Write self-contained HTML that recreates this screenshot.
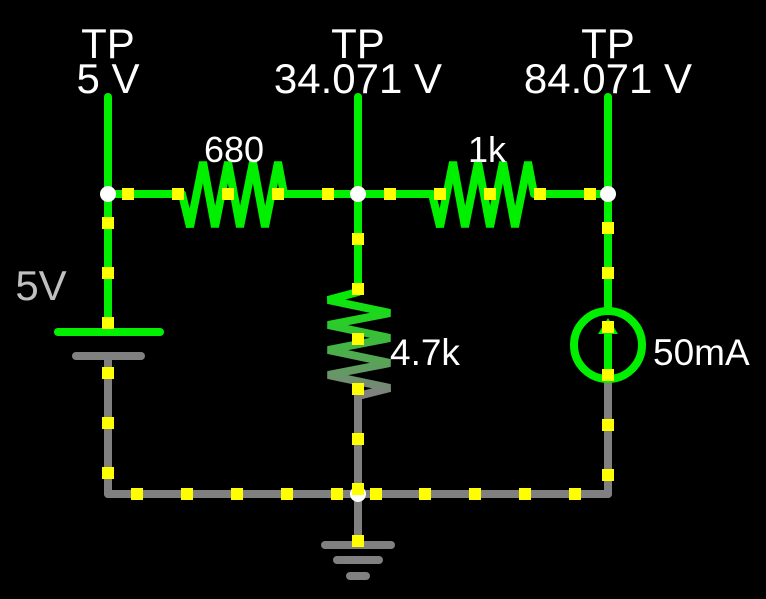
<!DOCTYPE html>
<html><head><style>html,body{margin:0;padding:0;background:#000;}</style></head>
<body>
<svg width="766" height="599" xmlns="http://www.w3.org/2000/svg" style="display:block">
<defs>
<linearGradient id="g1" x1="0" y1="290" x2="0" y2="395" gradientUnits="userSpaceOnUse">
<stop offset="0" stop-color="#00f000"/><stop offset="1" stop-color="#808080"/>
</linearGradient>
</defs>
<rect width="766" height="599" fill="#000"/>
<g stroke-linecap="round" stroke-linejoin="round" fill="none" stroke-width="8">
<line x1="108" y1="97" x2="108" y2="194" stroke="#00f000"/>
<line x1="358" y1="97" x2="358" y2="194" stroke="#00f000"/>
<line x1="608" y1="97" x2="608" y2="194" stroke="#00f000"/>
<line x1="108" y1="194" x2="182" y2="194" stroke="#00f000"/>
<line x1="284" y1="194" x2="432" y2="194" stroke="#00f000"/>
<line x1="534" y1="194" x2="608" y2="194" stroke="#00f000"/>
<polyline points="182,194 190,227 203,162 215,227 228,162 240,227 253,162 265,227 278,162 284,194" stroke="#00f000" stroke-linejoin="miter"/>
<polyline points="432,194 440,227 453,162 465,227 478,162 490,227 503,162 515,227 528,162 534,194" stroke="#00f000" stroke-linejoin="miter"/>
<line x1="108" y1="194" x2="108" y2="332" stroke="#00f000"/>
<line x1="58" y1="332" x2="160" y2="332" stroke="#00f000"/>
<line x1="76" y1="356" x2="141" y2="356" stroke="#808080"/>
<line x1="108" y1="356" x2="108" y2="494" stroke="#808080"/>
<line x1="358" y1="194" x2="358" y2="292" stroke="#00f000"/>
<polyline points="358,292 328,300 390,313 328,325 390,338 328,350 390,363 328,375 390,388 358,396" stroke="url(#g1)" stroke-linejoin="miter"/>
<line x1="358" y1="396" x2="358" y2="545" stroke="#808080"/>
<line x1="325" y1="545" x2="391" y2="545" stroke="#808080"/>
<line x1="337" y1="560" x2="379" y2="560" stroke="#808080"/>
<line x1="350" y1="576" x2="366" y2="576" stroke="#808080"/>
<line x1="108" y1="494" x2="608" y2="494" stroke="#808080"/>
<line x1="608" y1="194" x2="608" y2="308" stroke="#00f000"/>
<line x1="608" y1="382" x2="608" y2="494" stroke="#808080"/>
<circle cx="608" cy="345" r="34" stroke="#00f000"/>
<line x1="608" y1="372" x2="608" y2="330" stroke="#00f000"/>
</g>
<polygon points="608,318 598,334 618,334" fill="#00f000"/>
<g fill="#fff">
<circle cx="108" cy="194" r="8"/><circle cx="358" cy="194" r="8"/><circle cx="608" cy="194" r="8"/><circle cx="358" cy="494" r="8"/>
</g>
<g fill="#ffff00">
<rect x="122" y="188" width="12" height="12"/><rect x="172" y="188" width="12" height="12"/><rect x="222" y="188" width="12" height="12"/><rect x="272" y="188" width="12" height="12"/><rect x="322" y="188" width="12" height="12"/>
<rect x="384" y="188" width="12" height="12"/><rect x="434" y="188" width="12" height="12"/><rect x="484" y="188" width="12" height="12"/><rect x="534" y="188" width="12" height="12"/><rect x="584" y="188" width="12" height="12"/>
<rect x="102" y="217" width="12" height="12"/><rect x="102" y="267" width="12" height="12"/><rect x="102" y="317" width="12" height="12"/><rect x="102" y="367" width="12" height="12"/><rect x="102" y="417" width="12" height="12"/><rect x="102" y="467" width="12" height="12"/>
<rect x="352" y="233" width="12" height="12"/><rect x="352" y="283" width="12" height="12"/><rect x="352" y="333" width="12" height="12"/><rect x="352" y="383" width="12" height="12"/><rect x="352" y="433" width="12" height="12"/><rect x="352" y="483" width="12" height="12"/><rect x="352" y="535" width="12" height="12"/>
<rect x="602" y="222" width="12" height="12"/><rect x="602" y="267" width="12" height="12"/><rect x="602" y="321" width="12" height="12"/><rect x="602" y="369" width="12" height="12"/><rect x="602" y="419" width="12" height="12"/><rect x="602" y="469" width="12" height="12"/>
<rect x="131" y="488" width="12" height="12"/><rect x="181" y="488" width="12" height="12"/><rect x="231" y="488" width="12" height="12"/><rect x="281" y="488" width="12" height="12"/><rect x="331" y="488" width="12" height="12"/>
<rect x="370" y="488" width="12" height="12"/><rect x="419" y="488" width="12" height="12"/><rect x="469" y="488" width="12" height="12"/><rect x="519" y="488" width="12" height="12"/><rect x="569" y="488" width="12" height="12"/>
</g>
<g font-family="Liberation Sans, sans-serif" fill="#fff" text-anchor="middle">
<text x="108" y="58" font-size="42">TP</text><text x="108" y="93" font-size="42">5 V</text>
<text x="358" y="58" font-size="42">TP</text><text x="358" y="93" font-size="42">34.071 V</text>
<text x="608" y="58" font-size="42">TP</text><text x="608" y="93" font-size="42">84.071 V</text>
<text x="234" y="162" font-size="36">680</text>
<text x="487" y="162" font-size="36">1k</text>
<text x="41" y="300" font-size="42" fill="#c0c0c0">5V</text>
<text x="390" y="365" font-size="37" text-anchor="start">4.7k</text>
<text x="653" y="365" font-size="37" text-anchor="start">50mA</text>
</g>
</svg>
</body></html>
